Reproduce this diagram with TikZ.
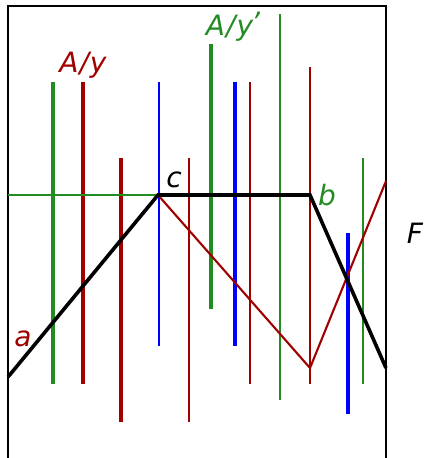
\documentclass[tikz,border=0pt]{standalone}
\usepackage{fontspec}
\setmainfont{DejaVu Sans}
\usepackage{tikz}
\definecolor{dred}{RGB}{160,0,0}
\definecolor{dgreen}{RGB}{34,139,34}
\tikzstyle{lab}=[font=\fontsize{28}{32}\selectfont\itshape,inner sep=0pt]
\tikzstyle{fat}=[line width=3.2pt]
\tikzstyle{slim}=[line width=2.1pt]

\begin{document}
\begin{tikzpicture}[x=1pt,y=-1pt]
\useasboundingbox (0,0) rectangle (425,458);
\coordinate (a) at (8,377);
\coordinate (c) at (158,195);
\coordinate (b) at (310,195);
\coordinate (d) at (386,368);
\coordinate (g) at (8,195);
\coordinate (r1) at (310,368);
\coordinate (r2) at (386,181);
% frame
\draw[line width=2.4pt] (8,458)--(8,6)--(386,6)--(386,458);
% vertical bars
\draw[fat,dgreen] (53,82)--(53,384);
\draw[fat,dred] (83,82)--(83,384);
\draw[fat,dred] (121,158)--(121,422);
\draw[slim,blue] (159,82)--(159,346);
\draw[slim,dred] (189,158)--(189,422);
\draw[fat,dgreen] (211,44)--(211,309);
\draw[fat,blue] (235,82)--(235,346);
\draw[slim,dred] (250,82)--(250,384);
\draw[slim,dgreen] (280,14)--(280,400);
\draw[slim,dred] (310,67)--(310,384);
\draw[fat,blue] (348,233)--(348,414);
\draw[slim,dgreen] (363,158)--(363,384);
% paths
\draw[slim,dgreen] (g)--(c);
\draw[slim,dred] (c)--(r1)--(r2);
\draw[line width=3.6pt,line join=miter] (a)--(c)--(b)--(d);
% labels
\node[lab,dred] (Ay) at (83,65) {A\kern1pt/\kern1pt y};
\node[lab,dgreen] (Ayp) at (233,27) {A\kern1pt/\kern1pt y\kern-2pt\raisebox{3pt}{\char"27}};
\node[lab] (lc) at (174,180) {c};
\node[lab,dgreen] (lb) at (327,195) {b};
\node[lab,dred] (la) at (23,339) {a};
\node[lab] (F) at (415,233) {F};
\end{tikzpicture}
\end{document}
